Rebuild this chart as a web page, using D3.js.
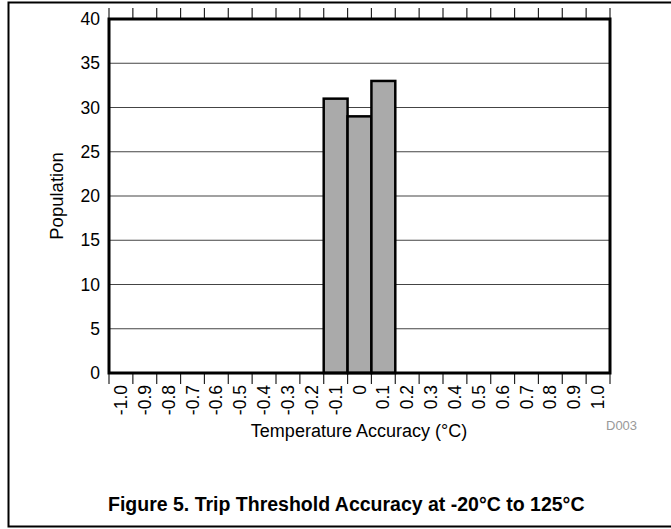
<!DOCTYPE html>
<html>
<head>
<meta charset="utf-8">
<script src="https://cdn.jsdelivr.net/npm/d3@7"></script>
<style>
  body { margin: 0; background: #fff; }
  text { font-family: "Liberation Sans", Arial, sans-serif; }
</style>
</head>
<body>
<div id="chart"></div>
<script>
// histogram bins and counts
let bins = ["-1.0", "-0.9", "-0.8", "-0.7", "-0.6", "-0.5", "-0.4", "-0.3", "-0.2", "-0.1",
  "0", "0.1", "0.2", "0.3", "0.4", "0.5", "0.6", "0.7", "0.8", "0.9", "1.0"];
let counts = [0, 0, 0, 0, 0, 0, 0, 0, 0, 31, 29, 33, 0, 0, 0, 0, 0, 0, 0, 0, 0];
let yTicks = [0, 5, 10, 15, 20, 25, 30, 35, 40];

let svg = d3.select("#chart").append("svg")
    .attr("width", 671)
    .attr("height", 529);

// outer frame (open on the right)
svg.append("path")
  .attr("d", "M671,2.5 H8.5 V526.5 H671")
  .attr("fill", "none")
  .attr("stroke", "#000")
  .attr("stroke-width", 2);

let plotL = 109, plotR = 610, plotT = 19, plotB = 373;

let x = d3.scaleBand().domain(bins).range([plotL, plotR]).padding(0);
let y = d3.scaleLinear().domain([0, 40]).range([plotB, plotT]);

// gridlines
svg.append("g")
  .selectAll("line")
  .data(yTicks.filter((d) => d > 0 && d < 40))
  .enter()
  .append("line")
  .attr("x1", plotL)
  .attr("x2", plotR)
  .attr("y1", (d) => y(d))
  .attr("y2", (d) => y(d))
  .attr("stroke", "#444")
  .attr("stroke-width", 1.2);

// band edges for ticks
let edges = bins.map((b) => x(b)).concat([x(bins[bins.length - 1]) + x.bandwidth()]);

// top ticks
svg.append("g")
  .selectAll("line")
  .data(edges)
  .enter()
  .append("line")
  .attr("x1", (d) => d)
  .attr("x2", (d) => d)
  .attr("y1", plotT)
  .attr("y2", plotT - 11)
  .attr("stroke", "#222")
  .attr("stroke-width", 1.2);

// bottom ticks
svg.append("g")
  .selectAll("line")
  .data(edges)
  .enter()
  .append("line")
  .attr("x1", (d) => d)
  .attr("x2", (d) => d)
  .attr("y1", plotB)
  .attr("y2", plotB + 11)
  .attr("stroke", "#222")
  .attr("stroke-width", 1.2);

// bars
svg.append("g")
  .selectAll("rect")
  .data(bins.map((b, i) => ({ bin: b, n: counts[i] })).filter((d) => d.n > 0))
  .enter()
  .append("rect")
  .attr("x", (d) => x(d.bin))
  .attr("y", (d) => y(d.n))
  .attr("width", x.bandwidth())
  .attr("height", (d) => plotB - y(d.n))
  .attr("fill", "#aaaaaa")
  .attr("stroke", "#000")
  .attr("stroke-width", 2.5);

// plot border
svg.append("rect")
  .attr("x", plotL)
  .attr("y", plotT)
  .attr("width", plotR - plotL)
  .attr("height", plotB - plotT)
  .attr("fill", "none")
  .attr("stroke", "#000")
  .attr("stroke-width", 3);

// y labels
svg.append("g")
  .selectAll("text")
  .data(yTicks)
  .enter()
  .append("text")
  .attr("x", 100)
  .attr("y", (d) => y(d) + 6)
  .attr("text-anchor", "end")
  .attr("font-size", 17.5)
  .text((d) => d);

// x labels, rotated
svg.append("g")
  .selectAll("text")
  .data(bins)
  .enter()
  .append("text")
  .attr("transform", (d) => "translate(" + (x(d) + x.bandwidth() / 2 + 6) + "," + 385 + ") rotate(-90)")
  .attr("text-anchor", "end")
  .attr("font-size", 17.5)
  .text((d) => d);

// axis titles
svg.append("text")
  .attr("x", 359)
  .attr("y", 437)
  .attr("text-anchor", "middle")
  .attr("font-size", 18)
  .text("Temperature Accuracy (°C)");

svg.append("text")
  .attr("transform", "translate(63,196) rotate(-90)")
  .attr("text-anchor", "middle")
  .attr("font-size", 18.5)
  .text("Population");

svg.append("text")
  .attr("x", 606)
  .attr("y", 430)
  .attr("font-size", 13)
  .attr("fill", "#999")
  .text("D003");

// caption
svg.append("text")
  .attr("x", 108)
  .attr("y", 511)
  .attr("font-size", 19.5)
  .attr("font-weight", "bold")
  .text("Figure 5. Trip Threshold Accuracy at -20°C to 125°C");
</script>
</body>
</html>
